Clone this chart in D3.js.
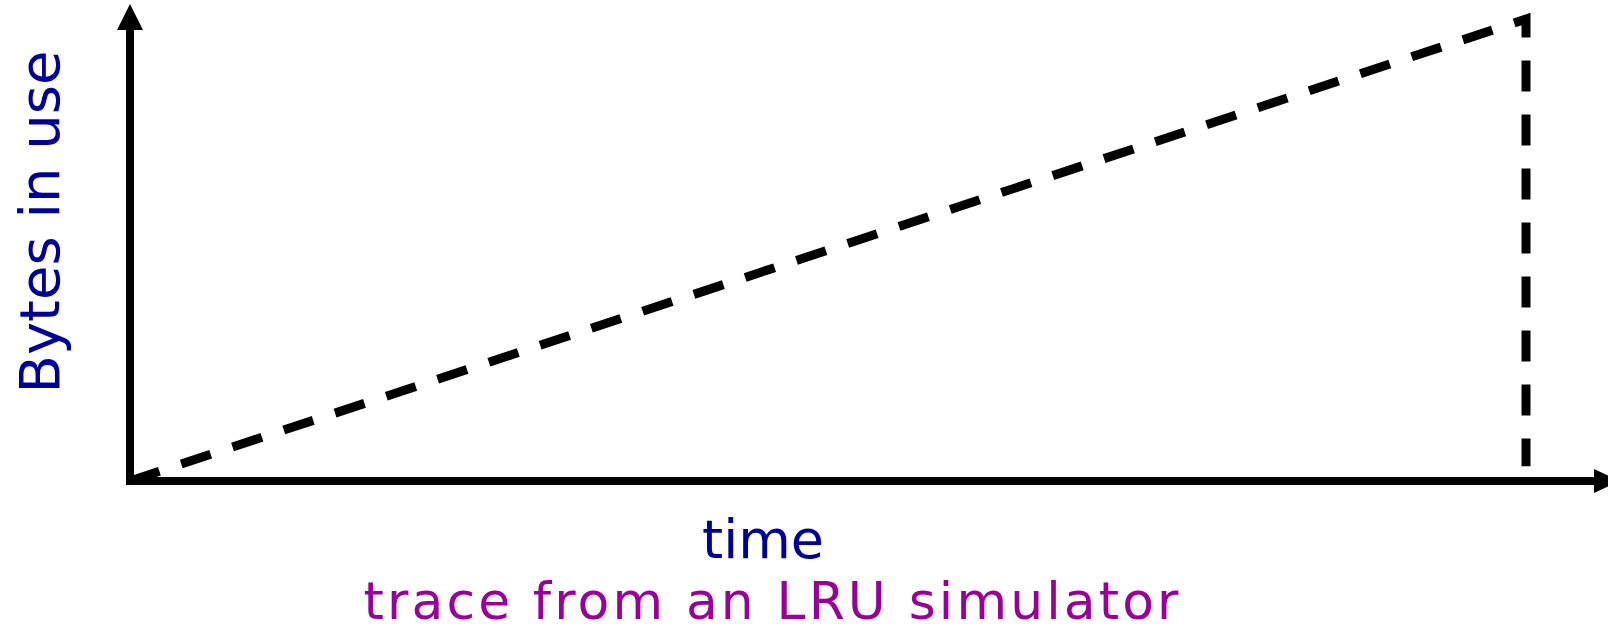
<!DOCTYPE html>
<html>
<head>
<meta charset="utf-8">
<script src="https://cdn.jsdelivr.net/npm/d3@7.9.0/dist/d3.min.js"></script>
<style>
  html, body { margin: 0; padding: 0; background: #fff; }
  svg { display: block; }
  text { font-family: "Comic Sans MS", "DejaVu Sans", sans-serif; }
</style>
</head>
<body>
<svg id="chart" width="1608" height="631"></svg>
<script>
// trace points (time, bytes in use)
const times = [0, 100, 100];
const bytes = [0, 100, 3.2];

const xLabel = 'time';
const yLabel = 'Bytes in use';
const caption = 'trace from an LRU simulator';

const origin = { x: 130, y: 481 };

let svg = d3.select('#chart');

// scales
let x = d3.scaleLinear().domain([0, 100]).range([origin.x, 1526]);
let y = d3.scaleLinear().domain([0, 100]).range([origin.y, 19]);

// axes as plain arrows
svg.append('line')
  .attr('x1', origin.x).attr('y1', origin.y + 4)
  .attr('x2', origin.x).attr('y2', 28)
  .attr('stroke', '#000').attr('stroke-width', 8);
svg.append('path')
  .attr('d', `M${origin.x - 13},30 L${origin.x},4 L${origin.x + 13},30 Z`)
  .attr('fill', '#000');

svg.append('line')
  .attr('x1', origin.x - 4).attr('y1', origin.y)
  .attr('x2', 1598).attr('y2', origin.y)
  .attr('stroke', '#000').attr('stroke-width', 8);
svg.append('path')
  .attr('d', `M1594,${origin.y - 12} L1620,${origin.y} L1594,${origin.y + 12} Z`)
  .attr('fill', '#000');

// the dashed trace
let data = times.map((t, i) => ({ t: t, b: bytes[i] }));
let line = d3.line().x((d) => x(d.t)).y((d) => y(d.b));

svg.append('path')
  .datum(data)
  .attr('d', line)
  .attr('fill', 'none')
  .attr('stroke', '#000')
  .attr('stroke-width', 9)
  .attr('stroke-dasharray', '31,23')
  .attr('stroke-linejoin', 'miter');

// labels
svg.append('text')
  .attr('transform', 'translate(59,222) rotate(-90)')
  .attr('text-anchor', 'middle')
  .attr('fill', '#000099')
  .attr('font-size', 56)
  .text(yLabel);

svg.append('text')
  .attr('x', 763).attr('y', 558)
  .attr('text-anchor', 'middle')
  .attr('fill', '#000099')
  .attr('font-size', 54)
  .text(xLabel);

// caption: reference font is wider, so spread the letters to its width
svg.append('text')
  .attr('x', 771).attr('y', 619)
  .attr('text-anchor', 'middle')
  .attr('fill', '#990099')
  .attr('font-size', 52)
  .attr('textLength', 815)
  .attr('lengthAdjust', 'spacing')
  .text(caption);
</script>
</body>
</html>
